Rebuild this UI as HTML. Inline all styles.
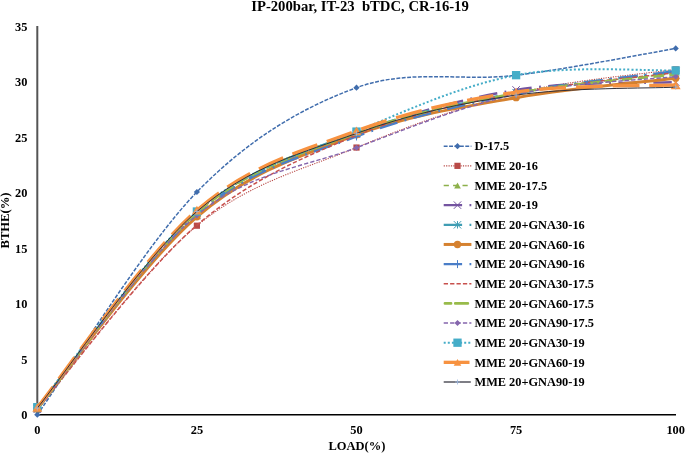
<!DOCTYPE html>
<html><head><meta charset="utf-8"><title>IP-200bar, IT-23 bTDC, CR-16-19</title>
<style>
html,body{margin:0;padding:0;background:#fff;}
body{width:685px;height:454px;overflow:hidden;position:relative;}
svg{position:absolute;left:0;top:0;display:block;}
text{font-family:"Liberation Serif","Times New Roman",serif;font-weight:bold;fill:#000;}
.t{font-size:14.7px;}
.a{font-size:12.4px;}
.l{font-size:12.35px;}
.x{font-size:12.5px;}
</style></head><body>
<svg width="685" height="454" viewBox="0 0 685 454">
<rect width="685" height="454" fill="#fff"/>
<text class="t" x="360" y="10.5" text-anchor="middle" xml:space="preserve" style="white-space:pre">IP-200bar, IT-23  bTDC, CR-16-19</text>
<line x1="37.3" y1="26" x2="37.3" y2="415.4" stroke="#555" stroke-width="2"/>
<line x1="36.5" y1="414.7" x2="676" y2="414.7" stroke="#000" stroke-width="1.5"/>
<text class="a" x="27.5" y="418.9" text-anchor="end">0</text>
<text class="a" x="27.5" y="363.5" text-anchor="end">5</text>
<text class="a" x="27.5" y="308.0" text-anchor="end">10</text>
<text class="a" x="27.5" y="252.6" text-anchor="end">15</text>
<text class="a" x="27.5" y="197.2" text-anchor="end">20</text>
<text class="a" x="27.5" y="141.8" text-anchor="end">25</text>
<text class="a" x="27.5" y="86.3" text-anchor="end">30</text>
<text class="a" x="27.5" y="30.9" text-anchor="end">35</text>
<text class="a" x="37.3" y="433.8" text-anchor="middle">0</text>
<text class="a" x="196.9" y="433.8" text-anchor="middle">25</text>
<text class="a" x="356.5" y="433.8" text-anchor="middle">50</text>
<text class="a" x="516.1" y="433.8" text-anchor="middle">75</text>
<text class="a" x="675.7" y="433.8" text-anchor="middle">100</text>
<text class="x" x="356.9" y="450.3" text-anchor="middle">LOAD(%)</text>
<text class="a" style="font-size:12.6px" transform="translate(9.0,220.5) rotate(-90)" text-anchor="middle">BTHE(%)</text>
<path d="M37.30 414.70 C63.90 377.58 143.70 246.50 196.90 192.00 C250.10 137.50 303.30 107.15 356.50 87.69 C409.70 68.24 462.90 81.82 516.10 75.28 C569.30 68.74 649.10 52.92 675.70 48.45" fill="none" stroke="#406DAD" stroke-width="1.5" stroke-dasharray="3.9 1.5"/>
<path d="M34.20 414.70L37.30 411.60L40.40 414.70L37.30 417.80Z" fill="#406DAD"/>
<path d="M193.80 192.00L196.90 188.90L200.00 192.00L196.90 195.10Z" fill="#406DAD"/>
<path d="M353.40 87.69L356.50 84.59L359.60 87.69L356.50 90.79Z" fill="#406DAD"/>
<path d="M513.00 75.28L516.10 72.18L519.20 75.28L516.10 78.38Z" fill="#406DAD"/>
<path d="M672.60 48.45L675.70 45.35L678.80 48.45L675.70 51.55Z" fill="#406DAD"/>
<path d="M37.30 409.16 C63.90 378.58 143.70 269.30 196.90 225.70 C250.10 182.10 303.30 169.63 356.50 147.55 C409.70 125.47 462.90 106.26 516.10 93.23 C569.30 80.21 649.10 73.37 675.70 69.40" fill="none" stroke="#B84A47" stroke-width="1.1" stroke-dasharray="1.2 1.2"/>
<rect x="34.20" y="406.06" width="6.20" height="6.20" fill="#B84A47"/>
<rect x="193.80" y="222.60" width="6.20" height="6.20" fill="#B84A47"/>
<rect x="353.40" y="144.45" width="6.20" height="6.20" fill="#B84A47"/>
<rect x="513.00" y="90.13" width="6.20" height="6.20" fill="#B84A47"/>
<rect x="672.60" y="66.30" width="6.20" height="6.20" fill="#B84A47"/>
<path d="M37.30 409.16 C63.90 376.46 143.70 258.86 196.90 212.95 C250.10 167.04 303.30 153.65 356.50 133.70 C409.70 113.74 462.90 103.30 516.10 93.23 C569.30 83.17 649.10 76.61 675.70 73.28" fill="none" stroke="#8DB04A" stroke-width="1.4" stroke-dasharray="5.2 4.2"/>
<path d="M33.94 412.16L37.30 406.16L40.66 412.16Z" fill="#8DB04A"/>
<path d="M193.54 215.95L196.90 209.95L200.26 215.95Z" fill="#8DB04A"/>
<path d="M353.14 136.70L356.50 130.70L359.86 136.70Z" fill="#8DB04A"/>
<path d="M512.74 96.23L516.10 90.23L519.46 96.23Z" fill="#8DB04A"/>
<path d="M672.34 76.28L675.70 70.28L679.06 76.28Z" fill="#8DB04A"/>
<path d="M37.30 409.16 C63.90 376.83 143.70 260.99 196.90 215.17 C250.10 169.35 303.30 155.13 356.50 134.25 C409.70 113.37 462.90 98.59 516.10 89.91 C569.30 81.23 649.10 83.44 675.70 82.15" fill="none" stroke="#7454A0" stroke-width="2.4" stroke-dasharray="18.4 7.4 1.8 7.4"/>
<path d="M33.60 405.46L41.00 412.86M33.60 412.86L41.00 405.46" stroke="#7454A0" stroke-width="1" fill="none"/>
<path d="M193.20 211.47L200.60 218.87M193.20 218.87L200.60 211.47" stroke="#7454A0" stroke-width="1" fill="none"/>
<path d="M352.80 130.55L360.20 137.95M352.80 137.95L360.20 130.55" stroke="#7454A0" stroke-width="1" fill="none"/>
<path d="M512.40 86.21L519.80 93.61M512.40 93.61L519.80 86.21" stroke="#7454A0" stroke-width="1" fill="none"/>
<path d="M672.00 78.45L679.40 85.85M672.00 85.85L679.40 78.45" stroke="#7454A0" stroke-width="1" fill="none"/>
<path d="M37.30 408.05 C63.90 375.53 143.70 258.86 196.90 212.95 C250.10 167.04 303.30 152.63 356.50 132.59 C409.70 112.54 462.90 102.84 516.10 92.68 C569.30 82.52 649.10 75.13 675.70 71.62" fill="none" stroke="#3F9DB3" stroke-width="2.2" stroke-dasharray="18.4 7.4 1.8 7.4"/>
<path d="M33.60 404.35L41.00 411.75M33.60 411.75L41.00 404.35M37.30 404.35L37.30 411.75" stroke="#3F9DB3" stroke-width="1" fill="none"/>
<path d="M193.20 209.25L200.60 216.65M193.20 216.65L200.60 209.25M196.90 209.25L196.90 216.65" stroke="#3F9DB3" stroke-width="1" fill="none"/>
<path d="M352.80 128.89L360.20 136.29M352.80 136.29L360.20 128.89M356.50 128.89L356.50 136.29" stroke="#3F9DB3" stroke-width="1" fill="none"/>
<path d="M512.40 88.98L519.80 96.38M512.40 96.38L519.80 88.98M516.10 88.98L516.10 96.38" stroke="#3F9DB3" stroke-width="1" fill="none"/>
<path d="M672.00 67.92L679.40 75.32M672.00 75.32L679.40 67.92M675.70 67.92L675.70 75.32" stroke="#3F9DB3" stroke-width="1" fill="none"/>
<path d="M37.30 408.05 C63.90 376.18 143.70 262.37 196.90 216.83 C250.10 171.29 303.30 154.66 356.50 134.80 C409.70 114.94 462.90 107.09 516.10 97.67 C569.30 88.25 649.10 81.50 675.70 78.27" fill="none" stroke="#D5812F" stroke-width="3.0"/>
<circle cx="37.30" cy="408.05" r="3.70" fill="#D5812F"/>
<circle cx="196.90" cy="216.83" r="3.70" fill="#D5812F"/>
<circle cx="356.50" cy="134.80" r="3.70" fill="#D5812F"/>
<circle cx="516.10" cy="97.67" r="3.70" fill="#D5812F"/>
<circle cx="675.70" cy="78.27" r="3.70" fill="#D5812F"/>
<path d="M37.30 408.05 C63.90 375.72 143.70 259.33 196.90 214.06 C250.10 168.80 303.30 156.51 356.50 136.47 C409.70 116.42 462.90 104.69 516.10 93.79 C569.30 82.89 649.10 74.85 675.70 71.06" fill="none" stroke="#4A7EC8" stroke-width="2.4" stroke-dasharray="18.4 7.4 1.8 7.4"/>
<path d="M33.30 408.05L41.30 408.05M37.30 404.05L37.30 412.05" stroke="#4A7EC8" stroke-width="1" fill="none"/>
<path d="M192.90 214.06L200.90 214.06M196.90 210.06L196.90 218.06" stroke="#4A7EC8" stroke-width="1" fill="none"/>
<path d="M352.50 136.47L360.50 136.47M356.50 132.47L356.50 140.47" stroke="#4A7EC8" stroke-width="1" fill="none"/>
<path d="M512.10 93.79L520.10 93.79M516.10 89.79L516.10 97.79" stroke="#4A7EC8" stroke-width="1" fill="none"/>
<path d="M671.70 71.06L679.70 71.06M675.70 67.06L675.70 75.06" stroke="#4A7EC8" stroke-width="1" fill="none"/>
<path d="M37.30 409.16 C63.90 378.49 143.70 270.78 196.90 225.15 C250.10 179.51 303.30 157.34 356.50 135.36 C409.70 113.37 462.90 103.67 516.10 93.23 C569.30 82.80 649.10 76.15 675.70 72.73" fill="none" stroke="#C8504D" stroke-width="1.5" stroke-dasharray="4.3 2.1"/>





<path d="M37.30 409.16 C63.90 376.46 143.70 258.96 196.90 212.95 C250.10 166.95 303.30 153.09 356.50 133.14 C409.70 113.19 462.90 103.03 516.10 93.23 C569.30 83.44 649.10 77.53 675.70 74.39" fill="none" stroke="#98BB4A" stroke-width="2.6" stroke-dasharray="10.5 5.5"/>





<path d="M37.30 409.16 C63.90 376.83 143.70 258.75 196.90 215.17 C250.10 171.59 303.30 167.80 356.50 147.66 C409.70 127.52 462.90 106.19 516.10 94.34 C569.30 82.50 649.10 79.56 675.70 76.61" fill="none" stroke="#8566AD" stroke-width="1.4" stroke-dasharray="4.3 2.1"/>
<path d="M34.30 409.16L37.30 406.16L40.30 409.16L37.30 412.16Z" fill="#8566AD"/>
<path d="M193.90 215.17L196.90 212.17L199.90 215.17L196.90 218.17Z" fill="#8566AD"/>
<path d="M353.50 147.66L356.50 144.66L359.50 147.66L356.50 150.66Z" fill="#8566AD"/>
<path d="M513.10 94.34L516.10 91.34L519.10 94.34L516.10 97.34Z" fill="#8566AD"/>
<path d="M672.70 76.61L675.70 73.61L678.70 76.61L675.70 79.61Z" fill="#8566AD"/>
<path d="M37.30 407.16 C63.90 374.55 143.70 257.44 196.90 211.51 C250.10 165.58 303.30 154.31 356.50 131.59 C409.70 108.86 462.90 85.36 516.10 75.17 C569.30 64.97 649.10 71.19 675.70 70.40" fill="none" stroke="#45ADC8" stroke-width="2.0" stroke-dasharray="2 2.1"/>
<rect x="33.15" y="403.01" width="8.30" height="8.30" fill="#45ADC8"/>
<rect x="192.75" y="207.36" width="8.30" height="8.30" fill="#45ADC8"/>
<rect x="352.35" y="127.44" width="8.30" height="8.30" fill="#45ADC8"/>
<rect x="511.95" y="71.02" width="8.30" height="8.30" fill="#45ADC8"/>
<rect x="671.55" y="66.25" width="8.30" height="8.30" fill="#45ADC8"/>
<path d="M37.30 407.38 C63.90 374.52 143.70 256.26 196.90 210.18 C250.10 164.11 303.30 150.60 356.50 130.92 C409.70 111.25 462.90 99.79 516.10 92.13 C569.30 84.46 649.10 86.12 675.70 84.92" fill="none" stroke="#F79240" stroke-width="3.33" stroke-dasharray="26.6 10" stroke-dashoffset="0.63"/>
<path d="M32.37 411.78L37.30 402.98L42.23 411.78Z" fill="#F79240"/>
<path d="M191.97 214.58L196.90 205.78L201.83 214.58Z" fill="#F79240"/>
<path d="M351.57 135.32L356.50 126.52L361.43 135.32Z" fill="#F79240"/>
<path d="M511.17 96.53L516.10 87.73L521.03 96.53Z" fill="#F79240"/>
<path d="M670.77 89.32L675.70 80.52L680.63 89.32Z" fill="#F79240"/>
<path d="M37.30 408.05 C63.90 375.29 143.70 257.29 196.90 211.51 C250.10 165.73 303.30 152.76 356.50 133.36 C409.70 113.96 462.90 102.82 516.10 95.12 C569.30 87.42 649.10 88.47 675.70 87.14" fill="none" stroke="#30303c" stroke-width="1.0"/>
<path d="M34.80 408.05L39.80 408.05M37.30 405.55L37.30 410.55" stroke="#9DB8E0" stroke-width="0.8" fill="none"/>
<path d="M194.40 211.51L199.40 211.51M196.90 209.01L196.90 214.01" stroke="#9DB8E0" stroke-width="0.8" fill="none"/>
<path d="M354.00 133.36L359.00 133.36M356.50 130.86L356.50 135.86" stroke="#9DB8E0" stroke-width="0.8" fill="none"/>
<path d="M513.60 95.12L518.60 95.12M516.10 92.62L516.10 97.62" stroke="#9DB8E0" stroke-width="0.8" fill="none"/>
<path d="M673.20 87.14L678.20 87.14M675.70 84.64L675.70 89.64" stroke="#9DB8E0" stroke-width="0.8" fill="none"/>
<path d="M443.7 146.20L471.4 146.20" fill="none" stroke="#406DAD" stroke-width="1.5" stroke-dasharray="3.9 1.5"/>
<path d="M454.40 146.20L457.50 143.10L460.60 146.20L457.50 149.30Z" fill="#406DAD"/>
<text class="l" x="474.5" y="150.4">D-17.5</text>
<path d="M443.7 165.85L471.4 165.85" fill="none" stroke="#B84A47" stroke-width="1.1" stroke-dasharray="1.2 1.2"/>
<rect x="454.40" y="162.75" width="6.20" height="6.20" fill="#B84A47"/>
<text class="l" x="474.5" y="170.0">MME 20-16</text>
<path d="M443.7 185.50L471.4 185.50" fill="none" stroke="#8DB04A" stroke-width="1.4" stroke-dasharray="5.2 4.2"/>
<path d="M454.14 188.50L457.50 182.50L460.86 188.50Z" fill="#8DB04A"/>
<text class="l" x="474.5" y="189.7">MME 20-17.5</text>
<path d="M443.7 205.15L471.4 205.15" fill="none" stroke="#7454A0" stroke-width="2.4" stroke-dasharray="18.4 7.4 1.8 7.4"/>
<path d="M453.80 201.45L461.20 208.85M453.80 208.85L461.20 201.45" stroke="#7454A0" stroke-width="1" fill="none"/>
<text class="l" x="474.5" y="209.3">MME 20-19</text>
<path d="M443.7 224.80L471.4 224.80" fill="none" stroke="#3F9DB3" stroke-width="2.2" stroke-dasharray="18.4 7.4 1.8 7.4"/>
<path d="M453.80 221.10L461.20 228.50M453.80 228.50L461.20 221.10M457.50 221.10L457.50 228.50" stroke="#3F9DB3" stroke-width="1" fill="none"/>
<text class="l" x="474.5" y="229.0">MME 20+GNA30-16</text>
<path d="M443.7 244.45L471.4 244.45" fill="none" stroke="#D5812F" stroke-width="3.0"/>
<circle cx="457.50" cy="244.45" r="3.70" fill="#D5812F"/>
<text class="l" x="474.5" y="248.6">MME 20+GNA60-16</text>
<path d="M443.7 264.10L471.4 264.10" fill="none" stroke="#4A7EC8" stroke-width="2.4" stroke-dasharray="18.4 7.4 1.8 7.4"/>
<path d="M453.50 264.10L461.50 264.10M457.50 260.10L457.50 268.10" stroke="#4A7EC8" stroke-width="1" fill="none"/>
<text class="l" x="474.5" y="268.3">MME 20+GNA90-16</text>
<path d="M443.7 283.75L471.4 283.75" fill="none" stroke="#C8504D" stroke-width="1.5" stroke-dasharray="4.3 2.1"/>

<text class="l" x="474.5" y="287.9">MME 20+GNA30-17.5</text>
<path d="M443.7 303.40L471.4 303.40" fill="none" stroke="#98BB4A" stroke-width="2.6" stroke-dasharray="6.2 4.1 12.7 10" stroke-linecap="round" stroke-dashoffset="-1.2"/>

<text class="l" x="474.5" y="307.6">MME 20+GNA60-17.5</text>
<path d="M443.7 323.05L471.4 323.05" fill="none" stroke="#8566AD" stroke-width="1.4" stroke-dasharray="4.3 2.1"/>
<path d="M454.50 323.05L457.50 320.05L460.50 323.05L457.50 326.05Z" fill="#8566AD"/>
<text class="l" x="474.5" y="327.2">MME 20+GNA90-17.5</text>
<path d="M443.7 342.70L471.4 342.70" fill="none" stroke="#45ADC8" stroke-width="2.0" stroke-dasharray="2 2.1"/>
<rect x="453.35" y="338.55" width="8.30" height="8.30" fill="#45ADC8"/>
<text class="l" x="474.5" y="346.9">MME 20+GNA30-19</text>
<path d="M443.7 362.35L469.5 362.35" fill="none" stroke="#F79240" stroke-width="3.33"/>
<path d="M453.69 365.75L457.50 358.95L461.31 365.75Z" fill="#F79240"/>
<text class="l" x="474.5" y="366.5">MME 20+GNA60-19</text>
<path d="M443.7 382.00L470.8 382.00" fill="none" stroke="#30303c" stroke-width="1.25"/>
<path d="M455.00 382.00L460.00 382.00M457.50 379.50L457.50 384.50" stroke="#9DB8E0" stroke-width="0.8" fill="none"/>
<text class="l" x="474.5" y="386.2">MME 20+GNA90-19</text>
</svg></body></html>
